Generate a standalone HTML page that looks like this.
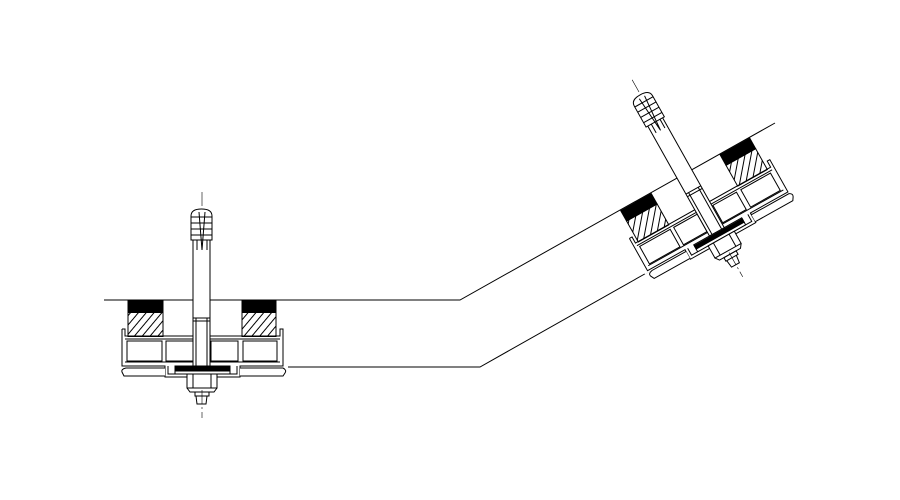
<!DOCTYPE html>
<html><head><meta charset="utf-8"><style>html,body{margin:0;padding:0;background:#fff}svg{display:block}</style></head>
<body>
<svg width="900" height="500" viewBox="0 0 900 500" xmlns="http://www.w3.org/2000/svg">
<defs>
<pattern id="h" patternUnits="userSpaceOnUse" width="6" height="6" patternTransform="rotate(40)">
<line x1="1" y1="0" x2="1" y2="6" stroke="#000" stroke-width="1"/>
</pattern>
<g id="asm" fill="none" stroke="#000" stroke-width="1">
  <line x1="202" y1="192" x2="202" y2="418" stroke-width="0.6" stroke-dasharray="14,3,2,3"/>
  <rect x="128" y="300.5" width="35" height="12" fill="#000"/>
  <rect x="128" y="312.5" width="35" height="24" fill="url(#h)"/>
  <rect x="242" y="300.5" width="34" height="12" fill="#000"/>
  <rect x="242" y="312.5" width="34" height="24" fill="url(#h)"/>
  <rect x="118" y="337" width="170" height="31" fill="#fff" stroke="none"/>
  <path d="M122,329 L125,329 L125,336 L280,336 L280,329 L283,329 L283,366 L240,366 L240,372" />
  <path d="M122,329 L122,366 L165,366 L165,377 L240,377 L240,366"/>
  <line x1="125" y1="339" x2="280" y2="339"/>
  <line x1="125" y1="362" x2="280" y2="362"/>
  <rect x="127" y="341" width="35" height="20"/>
  <rect x="166" y="341" width="27" height="20"/>
  <rect x="211" y="341" width="27" height="20"/>
  <rect x="243" y="341" width="34" height="20"/>
  <path d="M168,366 L168,374 L237,374 L237,366"/>
  <path d="M165,368 L126,368 Q121,369 122,372 L124,376 L165,376" fill="#fff"/>
  <path d="M240,368 L283,368 Q287,370 285,373 L283,376 L240,376" fill="#fff"/>
  <rect x="175" y="366" width="55" height="8" fill="#fff"/>
  <rect x="175" y="367" width="55" height="4" fill="#000"/>
  <rect x="193" y="235" width="17" height="131" fill="#fff"/>
  <line x1="196" y1="318" x2="196" y2="366"/>
  <line x1="207" y1="318" x2="207" y2="366"/>
  <line x1="193" y1="318" x2="210" y2="318"/>
  <line x1="193" y1="321" x2="210" y2="321"/>
  <path d="M191,240 L191,216 Q191,209 201.5,209 Q212,209 212,216 L212,240 Z" fill="#fff"/>
  <line x1="191" y1="217" x2="212" y2="217"/>
  <line x1="191" y1="223" x2="212" y2="223"/>
  <line x1="191" y1="229" x2="212" y2="229"/>
  <line x1="191" y1="235" x2="212" y2="235"/>
  <path d="M199,212 L202,250 L205,212"/>
  <line x1="197" y1="240" x2="197" y2="250"/>
  <line x1="207" y1="240" x2="207" y2="250"/>
  <rect x="187" y="374" width="30" height="14" fill="#fff"/>
  <line x1="193" y1="374" x2="193" y2="388"/>
  <line x1="211" y1="374" x2="211" y2="388"/>
  <path d="M187,388 L190,392 L214,392 L217,388"/>
  <rect x="195" y="392" width="14" height="4"/>
  <path d="M196,396 L197,404 L206,404 L207,396"/>
</g>
</defs>
<g fill="none" stroke="#000" stroke-width="1">
  <polyline points="104,300 460,300 775,123"/>
  <polyline points="283,367 480,367 650,271"/>
</g>
<use href="#asm"/>
<use href="#asm" transform="translate(685,174) rotate(-29.3) translate(-202,-300)"/>
</svg>
</body></html>
